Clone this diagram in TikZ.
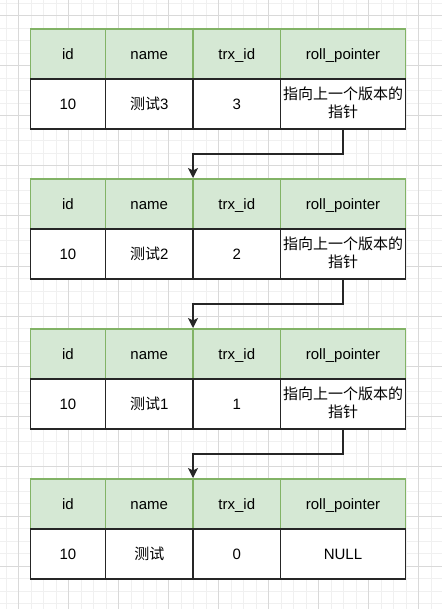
\documentclass[tikz,border=0pt]{standalone}
\usepackage{fontspec}
\setmainfont{Liberation Sans}
\newfontfamily\cjk{Noto Sans CJK SC}
\usepackage{tikz}
\usetikzlibrary{positioning}
\usetikzlibrary{arrows.meta}

\definecolor{hdrfill}{HTML}{D5E8D4}
\definecolor{hdrline}{HTML}{82B366}
\newcommand{\prevptr}{\cjk 指向上一个版本的\\\cjk 指针}
\newcommand{\cellstrut}{\rule[-3.8pt]{0pt}{18.8pt}}

\begin{document}
\begin{tikzpicture}[x=1pt,y=-1pt]
  \tikzset{minorgrid/.style={draw=black!6, line width=1pt}};
  \tikzset{majorgrid/.style={draw=black!15, line width=1pt}};
  \tikzset{cell/.style={rectangle, minimum height=50pt, inner sep=0pt, outer sep=0pt, align=center,
      font=\fontsize{15}{18}\selectfont, execute at begin node=\cellstrut, execute at end node=\cellstrut}};
  \tikzset{headcell/.style={cell, draw=hdrline, fill=hdrfill, line width=1.25pt}};
  \tikzset{valcell/.style={cell, draw=black!85, fill=white, line width=1.25pt}};
  \tikzset{myedge/.style={-{Stealth[length=10pt, width=10pt, inset=2.5pt]}, draw=black!85, line width=1.25pt, shorten >=1pt}};
  \useasboundingbox (0,0) rectangle (442,609);

  % background grid
  \foreach \gx in {6,18.5,...,442} \draw[minorgrid] (\gx,0) -- (\gx,609);
  \foreach \gy in {3.5,16,...,609} \draw[minorgrid] (0,\gy) -- (442,\gy);
  \foreach \gx in {18.5,68.5,...,442} \draw[majorgrid] (\gx,0) -- (\gx,609);
  \foreach \gy in {16,66,...,609} \draw[majorgrid] (0,\gy) -- (442,\gy);

  % one version record per table
  \foreach \t/\nm/\tx/\ptr in {1/{{\cjk 测试}3}/3/{\prevptr}, 2/{{\cjk 测试}2}/2/{\prevptr},
                                3/{{\cjk 测试}1}/1/{\prevptr}, 4/{{\cjk 测试}}/0/NULL} {
    \node[headcell, minimum width=75pt] (id\t) at (68,{150*\t-96}) {id};
    \node[headcell, minimum width=87.5pt, right=0pt of id\t] (name\t) {name};
    \node[headcell, minimum width=87.5pt, right=0pt of name\t] (trx\t) {trx\_id};
    \node[headcell, minimum width=125pt, right=0pt of trx\t] (ptr\t) {roll\_pointer};

    \node[valcell, minimum width=75pt, below=0pt of id\t] (vid\t) {10};
    \node[valcell, minimum width=87.5pt, right=0pt of vid\t] (vname\t) {\nm};
    \node[valcell, minimum width=87.5pt, right=0pt of vname\t] (vtrx\t) {\tx};
    \node[valcell, minimum width=125pt, right=0pt of vtrx\t] (vptr\t) {\ptr};
  }

  % roll_pointer links
  \foreach \a/\b in {1/2, 2/3, 3/4}
    \draw[myedge] (vptr\a.south) -- ++(0,25) -| (trx\b.north west);

\end{tikzpicture}
\end{document}
